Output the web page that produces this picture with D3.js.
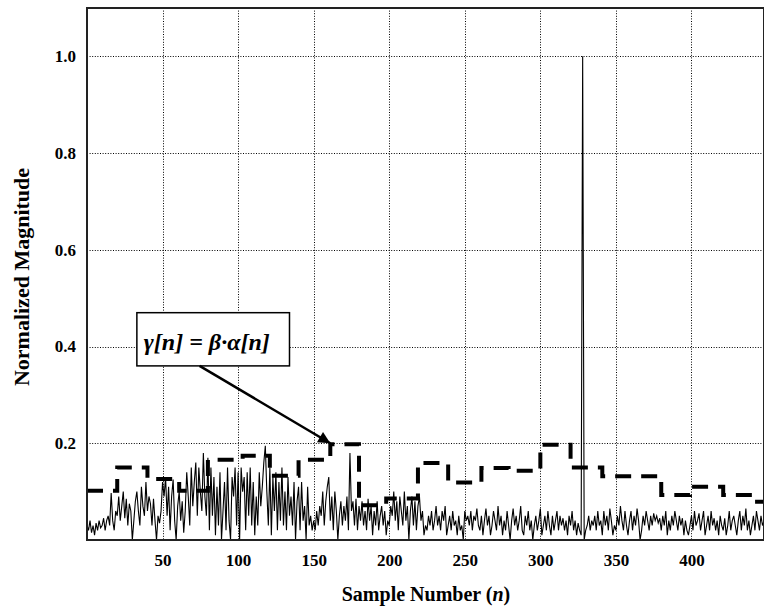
<!DOCTYPE html>
<html>
<head>
<meta charset="utf-8">
<script src="https://cdn.jsdelivr.net/npm/d3@7"></script>
<style>
  html, body { margin: 0; padding: 0; background: #fff; }
  svg { display: block; }
  text { font-family: "Liberation Serif", "Times New Roman", serif; font-weight: bold; fill: #000; }
</style>
</head>
<body>
<script>
// Normalized magnitude per sample n = 0..448
const magnitude = [
  0.03,0.02,0.04,0.015,0.03,0.01,0.035,0.02,0.04,0.025,
  0.03,0.045,0.02,0.04,0.05,0.03,0.097,0.04,0.02,0.06,
  0.05,0.09,0.04,0.07,0.10,0.045,0.085,0.03,0.075,0.06,
  0.0,0.04,0.08,0.10,0.06,0.03,0.11,0.07,0.05,0.12,
  0.06,0.09,0.075,0.03,0.085,0.04,0.0,0.05,0.035,0.06,
  0.12,0.09,0.13,0.05,0.11,0.02,0.09,0.125,0.04,0.0,
  0.07,0.10,0.04,0.08,0.015,0.06,0.14,0.09,0.03,0.15,
  0.07,0.12,0.16,0.05,0.15,0.10,0.06,0.18,0.09,0.05,
  0.17,0.02,0.15,0.05,0.13,0.01,0.11,0.03,0.14,0.0,
  0.06,0.12,0.02,0.15,0.04,0.0,0.13,0.09,0.15,0.03,
  0.14,0.0,0.15,0.10,0.13,0.02,0.14,0.05,0.15,0.03,
  0.12,0.01,0.09,0.03,0.14,0.07,0.11,0.16,0.195,0.10,
  0.03,0.15,0.01,0.13,0.06,0.14,0.02,0.12,0.04,0.15,
  0.03,0.10,0.02,0.13,0.05,0.09,0.03,0.12,0.0,0.08,
  0.11,0.02,0.12,0.04,0.07,0.0,0.11,0.03,0.05,0.02,
  0.04,0.02,0.06,0.03,0.07,0.05,0.10,0.03,0.08,0.11,
  0.13,0.04,0.09,0.02,0.10,0.06,0.0,0.05,0.08,0.03,
  0.07,0.04,0.09,0.02,0.18,0.06,0.08,0.03,0.085,0.02,
  0.07,0.04,0.08,0.03,0.06,0.02,0.085,0.04,0.07,0.01,
  0.06,0.03,0.08,0.02,0.05,0.07,0.03,0.06,0.01,0.04,
  0.03,0.07,0.05,0.10,0.04,0.08,0.02,0.09,0.06,0.03,
  0.10,0.04,0.07,0.0,0.06,0.09,0.03,0.08,0.02,0.07,
  0.09,0.04,0.06,0.01,0.03,0.02,0.05,0.03,0.06,0.02,
  0.04,0.07,0.03,0.05,0.02,0.06,0.04,0.07,0.01,0.03,
  0.05,0.02,0.06,0.03,0.04,0.01,0.05,0.02,0.03,0.0,
  0.06,0.04,0.05,0.03,0.06,0.02,0.05,0.04,0.065,0.03,
  0.02,0.05,0.01,0.04,0.065,0.03,0.05,0.01,0.03,0.06,
  0.04,0.02,0.07,0.03,0.05,0.01,0.04,0.02,0.06,0.03,
  0.0,0.04,0.065,0.03,0.05,0.02,0.04,0.07,0.02,0.01,
  0.05,0.03,0.06,0.02,0.04,0.0,0.03,0.05,0.02,0.04,
  0.065,0.01,0.03,0.05,0.02,0.06,0.03,0.01,0.05,0.02,
  0.04,0.06,0.02,0.05,0.03,0.045,0.02,0.04,0.01,0.05,
  0.03,0.06,0.02,0.04,0.01,0.035,0.02,0.01,1.0,0.0,
  0.02,0.03,0.05,0.02,0.04,0.03,0.05,0.02,0.06,0.03,
  0.04,0.01,0.06,0.03,0.05,0.02,0.065,0.04,0.01,0.03,
  0.02,0.05,0.03,0.07,0.04,0.02,0.06,0.03,0.01,0.04,
  0.06,0.02,0.05,0.03,0.065,0.04,0.0,0.02,0.05,0.03,
  0.06,0.04,0.02,0.05,0.03,0.055,0.04,0.05,0.035,0.045,
  0.02,0.05,0.03,0.06,0.01,0.04,0.02,0.05,0.03,0.06,
  0.04,0.02,0.05,0.03,0.045,0.01,0.04,0.02,0.01,0.03,
  0.05,0.02,0.06,0.03,0.04,0.055,0.02,0.04,0.06,0.01,
  0.03,0.05,0.02,0.06,0.03,0.045,0.02,0.04,0.01,0.05,
  0.03,0.02,0.045,0.01,0.03,0.06,0.02,0.04,0.05,0.03,
  0.01,0.04,0.06,0.02,0.05,0.03,0.065,0.02,0.04,0.01,
  0.03,0.05,0.02,0.06,0.04,0.02,0.05,0.03,0.04
];

// Adaptive threshold gamma[n]: block start sample and level for each block
const stepStart = [0, 20, 40, 61, 80, 103, 121, 140, 161, 180, 198, 219, 239, 261, 279, 300, 320, 341, 380, 399, 421, 440];
const stepLevel = [0.102, 0.150, 0.126, 0.102, 0.166, 0.174, 0.133, 0.166, 0.198, 0.072, 0.086, 0.159, 0.119, 0.149, 0.143, 0.197, 0.150, 0.132, 0.093, 0.110, 0.093, 0.079];
const stepEnd = 448;

const xTicks = [50, 100, 150, 200, 250, 300, 350, 400];
const yTicks = [0.2, 0.4, 0.6, 0.8, 1.0];

const W = 764, H = 609;
const m = { left: 87, top: 8, right: 764, bottom: 540 };

const svg = d3.select("body").append("svg").attr("width", W).attr("height", H);

const x = d3.scaleLinear().domain([0, 448]).range([m.left, m.right]);
const y = d3.scaleLinear().domain([0, 1.1]).range([m.bottom, m.top]);

// dotted grid
const grid = svg.append("g").attr("stroke", "#000").attr("stroke-width", 1).attr("stroke-dasharray", "1,1.6");
grid.selectAll("line.gx").data(xTicks).join("line")
  .attr("x1", d => Math.round(x(d)) + 0.5).attr("x2", d => Math.round(x(d)) + 0.5)
  .attr("y1", m.top).attr("y2", m.bottom);
grid.selectAll("line.gy").data(yTicks).join("line")
  .attr("y1", d => Math.round(y(d)) + 0.5).attr("y2", d => Math.round(y(d)) + 0.5)
  .attr("x1", m.left).attr("x2", m.right);

// threshold (dashed steps)
const steps = stepStart.map((s, i) => ({ n: s, v: stepLevel[i] }));
steps.push({ n: stepEnd, v: stepLevel[stepLevel.length - 1] });
svg.append("path")
  .datum(steps)
  .attr("fill", "none")
  .attr("stroke", "#000")
  .attr("stroke-width", 4)
  .attr("stroke-dasharray", "16,10")
  .attr("d", d3.line().x(d => x(d.n)).y(d => y(d.v)).curve(d3.curveStepAfter));

// signal
svg.append("path")
  .datum(magnitude)
  .attr("fill", "none")
  .attr("stroke", "#000")
  .attr("stroke-width", 1.1)
  .attr("stroke-linejoin", "miter")
  .attr("d", d3.line().x((d, i) => x(i)).y(d => y(d)));

// plot frame
svg.append("rect")
  .attr("x", m.left).attr("y", m.top)
  .attr("width", m.right - m.left).attr("height", m.bottom - m.top)
  .attr("fill", "none").attr("stroke", "#222").attr("stroke-width", 2);

// axes (labels only)
const yAxis = d3.axisLeft(y).tickValues(yTicks).tickFormat(d3.format(".1f")).tickSize(0).tickPadding(11);
const gy = svg.append("g").attr("transform", `translate(${m.left},0)`).call(yAxis);
gy.select(".domain").remove();
gy.selectAll("text").style("font-size", "17px").style("font-family", "Liberation Serif, serif").style("font-weight", "bold");

const xAxis = d3.axisBottom(x).tickValues(xTicks).tickFormat(d3.format("d")).tickSize(0).tickPadding(14);
const gx = svg.append("g").attr("transform", `translate(0,${m.bottom})`).call(xAxis);
gx.select(".domain").remove();
gx.selectAll("text").style("font-size", "17px").style("font-family", "Liberation Serif, serif").style("font-weight", "bold");

// axis titles
const xt = svg.append("text")
  .attr("x", 426).attr("y", 601)
  .attr("text-anchor", "middle")
  .style("font-size", "20px");
xt.append("tspan").text("Sample Number (");
xt.append("tspan").style("font-style", "italic").text("n");
xt.append("tspan").text(")");

svg.append("text")
  .attr("transform", "translate(29,277) rotate(-90)")
  .attr("text-anchor", "middle")
  .style("font-size", "22px")
  .text("Normalized Magnitude");

// annotation: label box with arrow pointing at the threshold
const box = { n0: 33, n1: 134, v0: 0.47, v1: 0.36 };
const bx0 = x(box.n0), bx1 = x(box.n1), by0 = y(box.v0), by1 = y(box.v1);
svg.append("rect")
  .attr("x", bx0).attr("y", by0).attr("width", bx1 - bx0).attr("height", by1 - by0)
  .attr("fill", "#fff").attr("stroke", "#000").attr("stroke-width", 1.5);
svg.append("text")
  .attr("x", bx0 + 7).attr("y", (by0 + by1) / 2 + 11)
  .attr("text-anchor", "start")
  .style("font-size", "24px").style("font-style", "italic")
  .text("\u03B3[n] = \u03B2\u00B7\u03B1[n]");

svg.append("defs").append("marker")
  .attr("id", "head").attr("viewBox", "0 0 10 10")
  .attr("refX", 10).attr("refY", 5)
  .attr("markerWidth", 5.5).attr("markerHeight", 4.8)
  .attr("markerUnits", "strokeWidth")
  .attr("orient", "auto")
  .append("path").attr("d", "M0,0 L10,5 L0,10 Z").attr("fill", "#000");

svg.append("line")
  .attr("x1", x(74.5)).attr("y1", by1)
  .attr("x2", x(161)).attr("y2", y(0.2))
  .attr("stroke", "#000").attr("stroke-width", 2.5)
  .attr("marker-end", "url(#head)");
</script>
</body>
</html>
